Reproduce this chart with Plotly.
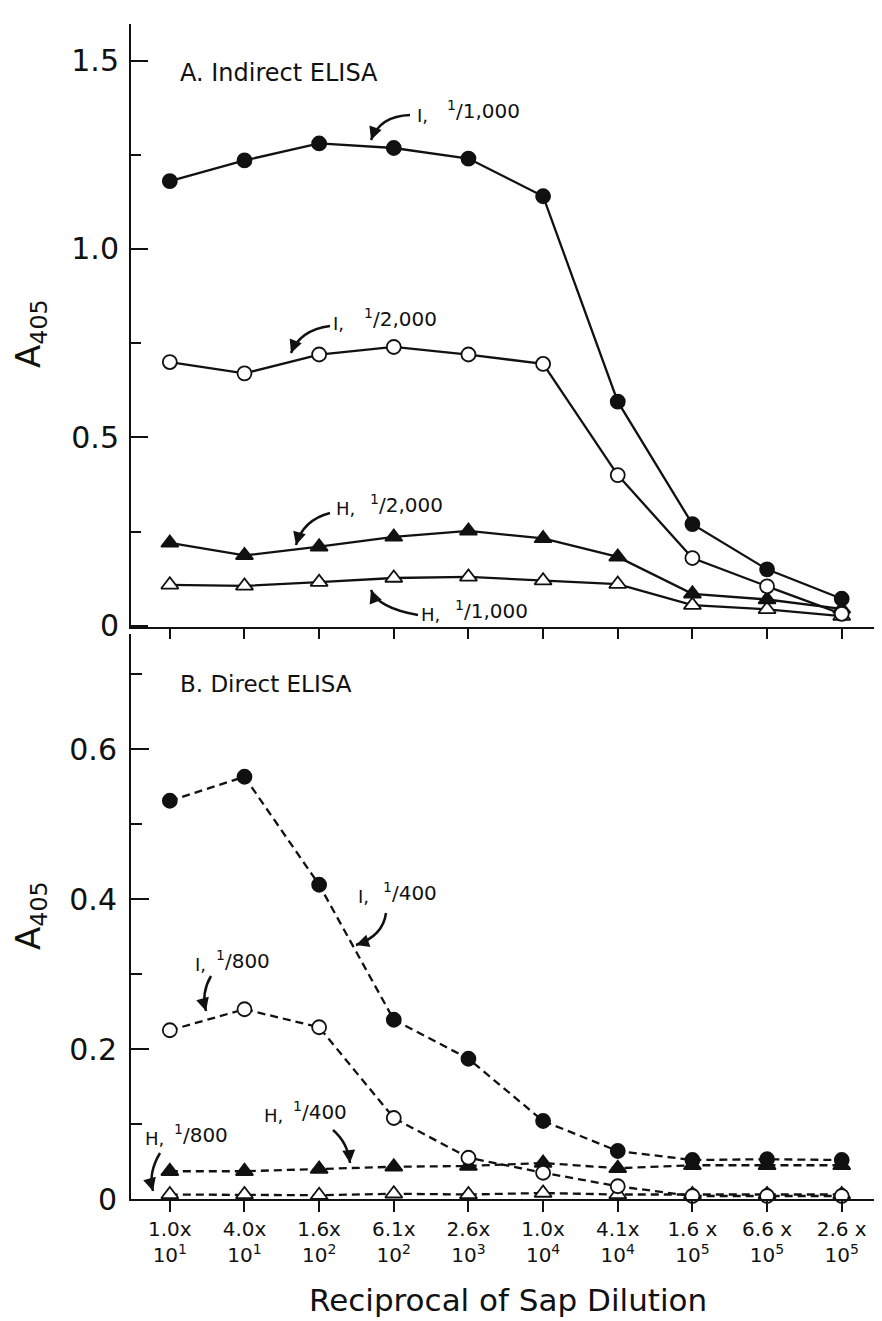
import plotly.graph_objects as go

# ---------------- data ----------------
categories = list(range(10))
x_tick_labels = ["1.0x<br>10<sup>1</sup>", "4.0x<br>10<sup>1</sup>", "1.6x<br>10<sup>2</sup>",
                 "6.1x<br>10<sup>2</sup>", "2.6x<br>10<sup>3</sup>", "1.0x<br>10<sup>4</sup>",
                 "4.1x<br>10<sup>4</sup>", "1.6 x<br>10<sup>5</sup>", "6.6 x<br>10<sup>5</sup>",
                 "2.6 x<br>10<sup>5</sup>"]

# Panel A: Indirect ELISA
a_I_1000 = [1.18, 1.235, 1.28, 1.268, 1.24, 1.14, 0.595, 0.27, 0.15, 0.072]
a_I_2000 = [0.70, 0.67, 0.72, 0.74, 0.72, 0.695, 0.40, 0.18, 0.105, 0.032]
a_H_2000 = [0.22, 0.187, 0.21, 0.236, 0.252, 0.232, 0.183, 0.085, 0.07, 0.045]
a_H_1000 = [0.109, 0.106, 0.116, 0.127, 0.13, 0.12, 0.111, 0.055, 0.044, 0.026]

# Panel B: Direct ELISA
b_I_400 = [0.531, 0.563, 0.419, 0.239, 0.187, 0.104, 0.064, 0.052, 0.053, 0.052]
b_I_800 = [0.225, 0.253, 0.229, 0.108, 0.055, 0.035, 0.017, 0.004, 0.004, 0.004]
b_H_400 = [0.037, 0.037, 0.040, 0.043, 0.044, 0.048, 0.041, 0.045, 0.045, 0.045]
b_H_800 = [0.006, 0.006, 0.005, 0.007, 0.006, 0.008, 0.006, 0.006, 0.006, 0.006]

a_yticks = [0, 0.5, 1.0, 1.5]
a_yticktext = ["0", "0.5", "1.0", "1.5"]
b_yticks = [0, 0.2, 0.4, 0.6]
b_yticktext = ["0", "0.2", "0.4", "0.6"]

# ---------------- layout geometry ----------------
W, H = 882, 1321
ML, MR, MT, MB = 123, 2, 16, 130
PW = W - ML - MR
PH = H - MT - MB
SPLIT = (H - MB - 619) / PH  # boundary between panels

def PX(px):
    return (px - ML) / PW

def PY(py):
    return (H - MB - py) / PH

FONT = "DejaVu Sans"
BLACK = "#111111"

fig = go.Figure()

def add_series(y, xa, ya, filled, symbol, dash):
    fig.add_trace(go.Scatter(
        x=categories, y=y, xaxis=xa, yaxis=ya, mode="lines+markers",
        line=dict(color=BLACK, width=2.3, dash=dash),
        marker=dict(symbol=symbol, size=14 if symbol == "circle" else 15,
                    color=BLACK if filled else "white",
                    line=dict(color=BLACK, width=1.8)),
        showlegend=False, cliponaxis=False))

add_series(a_H_1000, "x", "y", False, "triangle-up", "solid")
add_series(a_H_2000, "x", "y", True, "triangle-up", "solid")
add_series(a_I_2000, "x", "y", False, "circle", "solid")
add_series(a_I_1000, "x", "y", True, "circle", "solid")

DASH = "8px,5px"
add_series(b_H_800, "x2", "y2", False, "triangle-up", DASH)
add_series(b_H_400, "x2", "y2", True, "triangle-up", DASH)
add_series(b_I_800, "x2", "y2", False, "circle", DASH)
add_series(b_I_400, "x2", "y2", True, "circle", DASH)

XR = [-0.52, 9.62]
common = dict(showgrid=False, zeroline=False, showline=True, linecolor=BLACK, linewidth=2,
              tickcolor=BLACK, tickwidth=2)
BR = [0, 0.7627 - 0.006 * PH / 750]

fig.update_layout(
    width=W, height=H, autosize=False,
    margin=dict(l=ML, r=MR, t=MT, b=MB),
    paper_bgcolor="white", plot_bgcolor="white",
    font=dict(family=FONT, color=BLACK),
    xaxis=dict(domain=[0, 1], anchor="y", range=XR, tickvals=categories,
               showticklabels=False, ticks="outside", ticklen=10, **common),
    xaxis3=dict(overlaying="x", anchor="y", side="top", range=XR, tickvals=categories,
                showticklabels=False, ticks="inside", ticklen=10, **common),
    yaxis=dict(domain=[SPLIT, 1], anchor="x", range=[-0.003, 1.597],
               tickvals=a_yticks, ticktext=a_yticktext, ticks="inside", ticklen=17,
               tickfont=dict(size=30, family=FONT), ticklabelstandoff=4,
               minor=dict(tickvals=[0.25, 0.75, 1.25], ticks="inside", ticklen=10,
                          tickcolor=BLACK, tickwidth=2),
               **common),
    yaxis3=dict(overlaying="y", anchor="x", side="right", range=[-0.003, 1.597],
                tickvals=[0.25, 0.5, 0.75, 1.0, 1.25, 1.5], showticklabels=False,
                ticks="inside", ticklen=8, **common),
    xaxis2=dict(domain=[0, 1], anchor="y2", range=XR, tickvals=categories,
                ticktext=x_tick_labels, ticks="outside", ticklen=11,
                tickfont=dict(size=20, family=FONT), tickangle=0, **common),
    yaxis2=dict(domain=[0, SPLIT - 0.006], anchor="x2", range=BR,
                tickvals=b_yticks, ticktext=b_yticktext, ticks="inside", ticklen=18,
                tickfont=dict(size=30, family=FONT), ticklabelstandoff=6,
                minor=dict(tickvals=[0.1, 0.3, 0.5, 0.7], ticks="inside", ticklen=11,
                           tickcolor=BLACK, tickwidth=2),
                **common),
    yaxis4=dict(overlaying="y2", anchor="x2", side="right", range=BR,
                tickvals=[0.1, 0.2, 0.3, 0.4, 0.5, 0.6, 0.7], showticklabels=False,
                ticks="inside", ticklen=8, **common),
)

annotations = []
shapes = []

def txt(text, px, py, size=19, xanchor="center"):
    annotations.append(dict(text=text, x=PX(px), y=PY(py), xref="paper", yref="paper",
                            xanchor=xanchor, yanchor="middle", showarrow=False,
                            font=dict(size=size, family=FONT, color=BLACK)))

def curved_arrow(tail, ctrl, head):
    shapes.append(dict(type="path", xref="paper", yref="paper",
                       path=f"M {PX(tail[0])},{PY(tail[1])} Q {PX(ctrl[0])},{PY(ctrl[1])} {PX(head[0])},{PY(head[1])}",
                       line=dict(color=BLACK, width=2.5)))
    dx, dy = ctrl[0] - head[0], ctrl[1] - head[1]
    n = (dx * dx + dy * dy) ** 0.5 or 1
    annotations.append(dict(text="", x=PX(head[0]), y=PY(head[1]), xref="paper", yref="paper",
                            showarrow=True, ax=dx / n * 8, ay=dy / n * 8,
                            arrowhead=2, arrowsize=1.3, arrowwidth=2, arrowcolor=BLACK))

# Titles / panel labels
txt("A. Indirect ELISA", 170, 65, size=24, xanchor="left")
txt("B. Direct ELISA", 170, 676, size=23, xanchor="left")

for cy in (326, 908):
    annotations.append(dict(text="A<sub>405</sub>", x=PX(22), y=PY(cy), xref="paper", yref="paper",
                            textangle=-90, showarrow=False, xanchor="center", yanchor="middle",
                            font=dict(size=34, family=FONT, color=BLACK)))
txt("Reciprocal of Sap Dilution", 500, 1292, size=31)

# Series labels (panel A)
txt("I,", 414, 108, size=18)
txt("<sup>1</sup>/1,000", 437, 102, size=20, xanchor="left")
curved_arrow((402, 107), (372, 108), (363, 132))

txt("I,", 330, 315, size=18)
txt("<sup>1</sup>/2,000", 354, 310, size=20, xanchor="left")
curved_arrow((322, 318), (292, 322), (283, 345))

txt("H,", 337, 500, size=18)
txt("<sup>1</sup>/2,000", 360, 496, size=20, xanchor="left")
curved_arrow((322, 505), (295, 512), (288, 537))

txt("H,", 422, 606, size=18)
txt("<sup>1</sup>/1,000", 445, 602, size=20, xanchor="left")
curved_arrow((410, 607), (370, 600), (363, 582))

# Series labels (panel B)
txt("I,", 355, 888, size=18)
txt("<sup>1</sup>/400", 373, 884, size=20, xanchor="left")
curved_arrow((378, 905), (375, 928), (348, 937))

txt("I,", 192, 956, size=18)
txt("<sup>1</sup>/800", 206, 952, size=20, xanchor="left")
curved_arrow((203, 968), (193, 985), (198, 1003))

txt("H,", 265, 1107, size=18)
txt("<sup>1</sup>/400", 283, 1103, size=20, xanchor="left")
curved_arrow((325, 1122), (340, 1135), (342, 1155))

txt("H,", 146, 1130, size=18)
txt("<sup>1</sup>/800", 164, 1126, size=20, xanchor="left")
curved_arrow((152, 1145), (140, 1165), (145, 1183))

fig.update_layout(annotations=annotations, shapes=shapes)

fig.write_html("out.html")
